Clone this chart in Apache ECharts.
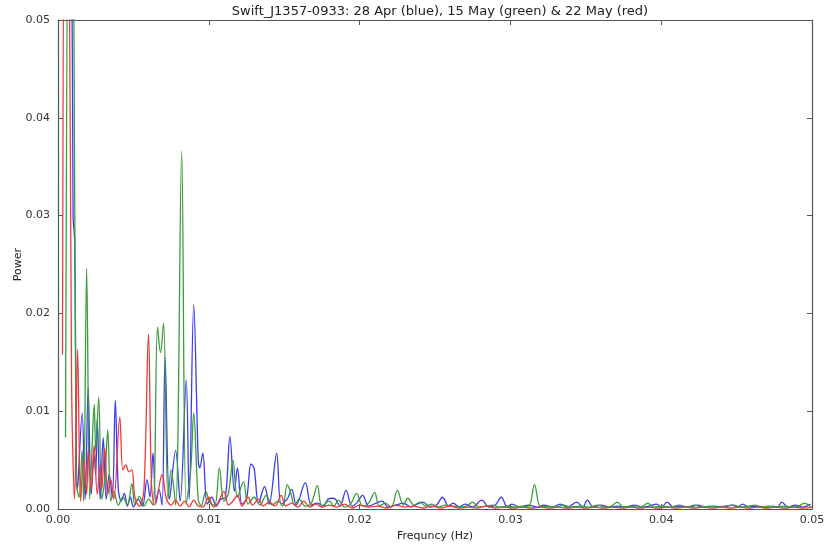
<!DOCTYPE html>
<html>
<head>
<meta charset="utf-8">
<script src="https://cdn.jsdelivr.net/npm/echarts@6/dist/echarts.min.js"></script>
<style>
    html, body { margin: 0; padding: 0; background: #fff; }
    #chart { width: 824px; height: 547px; }
</style>
</head>
<body>
<div id="chart"></div>
<script>
    // power spectra, [frequency (Hz), power]
    const blue28Apr = [
        [0.0003, 0.060], [0.0006, 0.085], [0.0009, 0.060], [0.0010, 0.030], [0.0011, 0.0275], [0.0013, 0.0020],
        [0.0016, 0.0098], [0.0018, 0.0010], [0.0020, 0.0124], [0.0022, 0.0015], [0.0024, 0.0055],
        [0.0025, 0.0035], [0.0026, 0.0092], [0.0028, 0.0010], [0.0030, 0.0073], [0.0032, 0.0010],
        [0.0034, 0.0035], [0.0036, 0.0012], [0.0038, 0.0111], [0.0040, 0.0020], [0.0042, 0.0008],
        [0.0044, 0.0016], [0.0046, 0.0003], [0.0048, 0.0012], [0.0050, 0.0002], [0.0053, 0.0010],
        [0.0056, 0.0003], [0.0059, 0.0030], [0.0061, 0.0012], [0.0063, 0.0057], [0.0065, 0.0006],
        [0.0067, 0.0020], [0.0069, 0.0004], [0.0071, 0.0155], [0.0074, 0.0010], [0.0078, 0.0060],
        [0.0081, 0.0008], [0.0085, 0.0132], [0.0087, 0.0010], [0.0090, 0.0209], [0.0093, 0.0050],
        [0.0094, 0.0042], [0.0096, 0.0057], [0.0099, 0.0005], [0.0102, 0.0012], [0.0105, 0.0003],
        [0.0108, 0.0010], [0.0111, 0.0012], [0.0114, 0.0074], [0.0117, 0.0018], [0.0119, 0.0042],
        [0.0122, 0.0005], [0.0125, 0.0010], [0.0128, 0.0046], [0.0130, 0.0042], [0.0133, 0.0006],
        [0.0137, 0.0023], [0.0140, 0.0005], [0.0145, 0.0057], [0.0148, 0.0005], [0.0152, 0.0010],
        [0.0155, 0.0020], [0.0158, 0.0004], [0.0164, 0.0027], [0.0168, 0.0004], [0.0172, 0.0006],
        [0.0176, 0.0003], [0.0179, 0.0010], [0.0182, 0.0011], [0.0184, 0.0010], [0.0187, 0.0003],
        [0.0191, 0.0019], [0.0195, 0.0003], [0.0198, 0.0006], [0.0202, 0.0014], [0.0206, 0.0003],
        [0.0211, 0.0006], [0.0215, 0.0008], [0.0219, 0.0002], [0.0224, 0.0004], [0.0229, 0.0006],
        [0.0234, 0.0002], [0.0238, 0.0005], [0.0242, 0.0007], [0.0247, 0.0002], [0.0251, 0.0004],
        [0.0255, 0.0012], [0.0259, 0.0003], [0.0262, 0.0006], [0.0266, 0.0002], [0.0270, 0.0005],
        [0.0275, 0.0002], [0.0281, 0.0009], [0.0286, 0.0002], [0.0290, 0.0004], [0.0294, 0.0012],
        [0.0298, 0.0002], [0.0301, 0.0005], [0.0306, 0.0002], [0.0312, 0.0004], [0.0318, 0.0002],
        [0.0322, 0.0004], [0.0328, 0.0002], [0.0333, 0.0005], [0.0338, 0.0002], [0.0344, 0.0007],
        [0.0348, 0.0002], [0.0351, 0.0009], [0.0355, 0.0002], [0.0360, 0.0004], [0.0366, 0.0002],
        [0.0371, 0.0003], [0.0377, 0.0002], [0.0382, 0.0004], [0.0388, 0.0002], [0.0392, 0.0003],
        [0.0397, 0.0005], [0.0400, 0.0002], [0.0404, 0.0007], [0.0408, 0.0002], [0.0413, 0.0003],
        [0.0419, 0.0002], [0.0424, 0.0004], [0.0430, 0.0002], [0.0435, 0.0003], [0.0441, 0.0002],
        [0.0447, 0.0004], [0.0451, 0.0002], [0.0454, 0.0005], [0.0458, 0.0002], [0.0463, 0.0003],
        [0.0469, 0.0002], [0.0474, 0.0003], [0.0477, 0.0002], [0.0480, 0.0007], [0.0484, 0.0002],
        [0.0489, 0.0004], [0.0494, 0.0002], [0.0499, 0.0005]
    ]

    const green15May = [
        [0.0005, 0.0073], [0.0008, 0.085], [0.0010, 0.070], [0.0012, 0.0030], [0.0014, 0.0012],
        [0.0016, 0.0060], [0.0017, 0.0008], [0.0019, 0.0246], [0.0021, 0.0010], [0.0022, 0.0040],
        [0.0024, 0.0107], [0.0025, 0.0060], [0.0027, 0.0114], [0.0029, 0.0010], [0.0031, 0.0030],
        [0.0033, 0.0081], [0.0035, 0.0008], [0.0037, 0.0018], [0.0040, 0.0004], [0.0043, 0.0012],
        [0.0046, 0.0004], [0.0049, 0.0026], [0.0051, 0.0004], [0.0054, 0.0013], [0.0057, 0.0003],
        [0.0060, 0.0010], [0.0063, 0.0004], [0.0066, 0.0186], [0.0068, 0.0160], [0.0070, 0.0190],
        [0.0073, 0.0010], [0.0075, 0.0040], [0.0078, 0.0004], [0.0082, 0.0366], [0.0085, 0.0005],
        [0.0088, 0.0040], [0.0090, 0.0098], [0.0093, 0.0010], [0.0095, 0.0003], [0.0098, 0.0018],
        [0.0101, 0.0006], [0.0104, 0.0004], [0.0107, 0.0042], [0.0110, 0.0008], [0.0113, 0.0016],
        [0.0116, 0.0050], [0.0119, 0.0012], [0.0123, 0.0028], [0.0126, 0.0005], [0.0130, 0.0012],
        [0.0134, 0.0004], [0.0138, 0.0014], [0.0142, 0.0004], [0.0146, 0.0008], [0.0149, 0.0003],
        [0.0152, 0.0025], [0.0154, 0.0018], [0.0157, 0.0004], [0.0160, 0.0010], [0.0164, 0.0003],
        [0.0168, 0.0006], [0.0172, 0.0024], [0.0175, 0.0003], [0.0180, 0.0008], [0.0183, 0.0003],
        [0.0186, 0.0009], [0.0190, 0.0002], [0.0194, 0.0005], [0.0198, 0.0016], [0.0202, 0.0003],
        [0.0206, 0.0006], [0.0210, 0.0017], [0.0213, 0.0003], [0.0217, 0.0006], [0.0221, 0.0002],
        [0.0225, 0.0019], [0.0229, 0.0004], [0.0232, 0.0011], [0.0236, 0.0004], [0.0240, 0.0007],
        [0.0244, 0.0003], [0.0248, 0.0005], [0.0252, 0.0002], [0.0257, 0.0004], [0.0262, 0.0003],
        [0.0267, 0.0002], [0.0271, 0.0003], [0.0275, 0.0007], [0.0279, 0.0002], [0.0284, 0.0003],
        [0.0288, 0.0004], [0.0293, 0.0002], [0.0298, 0.0003], [0.0303, 0.0002], [0.0308, 0.0003],
        [0.0312, 0.0002], [0.0316, 0.0025], [0.0320, 0.0002], [0.0325, 0.0003], [0.0330, 0.0002],
        [0.0335, 0.0004], [0.0340, 0.0002], [0.0346, 0.0003], [0.0352, 0.0002], [0.0358, 0.0004],
        [0.0363, 0.0002], [0.0367, 0.0003], [0.0371, 0.0007], [0.0375, 0.0002], [0.0379, 0.0003],
        [0.0384, 0.0002], [0.0388, 0.0003], [0.0391, 0.0006], [0.0395, 0.0002], [0.0401, 0.0003],
        [0.0406, 0.0002], [0.0412, 0.0004], [0.0417, 0.0002], [0.0422, 0.0004], [0.0427, 0.0002],
        [0.0432, 0.0003], [0.0437, 0.0002], [0.0442, 0.0003], [0.0448, 0.0004], [0.0453, 0.0002],
        [0.0458, 0.0003], [0.0462, 0.0004], [0.0467, 0.0002], [0.0471, 0.0003], [0.0476, 0.0002],
        [0.0481, 0.0003], [0.0486, 0.0002], [0.0491, 0.0003], [0.0495, 0.0006], [0.0499, 0.0002]
    ]

    const red22May = [
        [0.0003, 0.0158], [0.0005, 0.080], [0.0007, 0.070], [0.0009, 0.0130], [0.0011, 0.0010],
        [0.0013, 0.0163], [0.0015, 0.0008], [0.0017, 0.0050], [0.0019, 0.0015], [0.0020, 0.0060],
        [0.0022, 0.0020], [0.0024, 0.0065], [0.0026, 0.0015], [0.0028, 0.0045], [0.0029, 0.0020],
        [0.0031, 0.0062], [0.0033, 0.0015], [0.0035, 0.0030], [0.0037, 0.0010], [0.0041, 0.0094],
        [0.0043, 0.0040], [0.0045, 0.0045], [0.0047, 0.0038], [0.0049, 0.0040], [0.0051, 0.0012],
        [0.0054, 0.0003], [0.0057, 0.0020], [0.0060, 0.0179], [0.0062, 0.0025], [0.0064, 0.0004],
        [0.0066, 0.0015], [0.0069, 0.0035], [0.0072, 0.0010], [0.0075, 0.0004], [0.0078, 0.0009],
        [0.0081, 0.0003], [0.0084, 0.0008], [0.0087, 0.0002], [0.0090, 0.0009], [0.0093, 0.0003],
        [0.0096, 0.0002], [0.0100, 0.0012], [0.0103, 0.0002], [0.0106, 0.0006], [0.0110, 0.0018],
        [0.0113, 0.0004], [0.0116, 0.0008], [0.0119, 0.0014], [0.0122, 0.0003], [0.0126, 0.0012],
        [0.0129, 0.0004], [0.0133, 0.0010], [0.0136, 0.0003], [0.0140, 0.0007], [0.0144, 0.0003],
        [0.0148, 0.0014], [0.0151, 0.0003], [0.0155, 0.0006], [0.0159, 0.0002], [0.0163, 0.0008],
        [0.0167, 0.0002], [0.0171, 0.0005], [0.0175, 0.0002], [0.0180, 0.0004], [0.0185, 0.0002],
        [0.0190, 0.0005], [0.0195, 0.0001], [0.0200, 0.0004], [0.0206, 0.0002], [0.0212, 0.0003],
        [0.0218, 0.0001], [0.0224, 0.0004], [0.0230, 0.0002], [0.0236, 0.0003], [0.0242, 0.0001],
        [0.0248, 0.0003], [0.0254, 0.0001], [0.0260, 0.0003], [0.0266, 0.0001], [0.0272, 0.0002],
        [0.0278, 0.0001], [0.0284, 0.0003], [0.0290, 0.0001], [0.0296, 0.0002], [0.0302, 0.0001],
        [0.0308, 0.0002], [0.0314, 0.0001], [0.0320, 0.0002], [0.0326, 0.0001], [0.0332, 0.0002],
        [0.0338, 0.0001], [0.0344, 0.0002], [0.0350, 0.0001], [0.0356, 0.0002], [0.0362, 0.0001],
        [0.0368, 0.0002], [0.0374, 0.0001], [0.0380, 0.0002], [0.0386, 0.0001], [0.0392, 0.0002],
        [0.0398, 0.0001], [0.0404, 0.0002], [0.0410, 0.0001], [0.0416, 0.0002], [0.0422, 0.0001],
        [0.0428, 0.0002], [0.0434, 0.0001], [0.0440, 0.0002], [0.0446, 0.0001], [0.0452, 0.0002],
        [0.0458, 0.0001], [0.0464, 0.0002], [0.0470, 0.0001], [0.0476, 0.0002], [0.0482, 0.0001],
        [0.0488, 0.0002], [0.0494, 0.0001], [0.0500, 0.0002]
    ]

    const tickValues = [0, 0.01, 0.02, 0.03, 0.04, 0.05]

    const font = 'DejaVu Sans'
    const frameColor = '#555'

    function lineSeries(name, data, color) {
        return {
            name: name,
            type: 'line',
            data: data,
            smooth: 0.35,
            symbol: 'none',
            clip: true,
            lineStyle: { color: color, width: 1.3 },
            itemStyle: { color: color }
        }
    }

    function axisBase(show) {
        return {
            type: 'value',
            min: tickValues[0],
            max: tickValues[tickValues.length - 1],
            interval: 0.01,
            splitLine: { show: false },
            axisLine: { show: true, onZero: false, lineStyle: { color: frameColor, width: 1.2 } },
            axisTick: { show: true, inside: true, length: 5, lineStyle: { color: frameColor } },
            axisLabel: {
                show: show,
                color: '#333',
                fontFamily: font,
                fontSize: 11,
                formatter: v => v.toFixed(2)
            }
        }
    }

    const chart = echarts.init(document.getElementById('chart'))
    chart.setOption({
        animation: false,
        backgroundColor: '#fff',
        title: {
            text: 'Swift_J1357-0933: 28 Apr (blue), 15 May (green) & 22 May (red)',
            left: 435,
            top: 0,
            textAlign: 'center',
            textStyle: { fontFamily: font, fontSize: 13, fontWeight: 'normal', color: '#222' }
        },
        grid: { left: 58, right: 12, top: 20, bottom: 38, outerBoundsMode: 'none' },
        xAxis: [
            Object.assign(axisBase(true), {
                position: 'bottom',
                name: 'Frequncy (Hz)',
                nameLocation: 'middle',
                nameGap: 22,
                nameTextStyle: { fontFamily: font, fontSize: 11, color: '#222' },
                axisLabel: Object.assign(axisBase(true).axisLabel, { margin: 6 })
            }),
            Object.assign(axisBase(false), { position: 'top' })
        ],
        yAxis: [
            Object.assign(axisBase(true), {
                position: 'left',
                name: 'Power',
                nameLocation: 'middle',
                nameGap: 34,
                nameMoveOverlap: false,
                nameTextStyle: { fontFamily: font, fontSize: 11, color: '#222' }
            }),
            Object.assign(axisBase(false), { position: 'right' })
        ],
        series: [
            lineSeries('28 Apr', blue28Apr, '#3b3bf2'),
            lineSeries('15 May', green15May, '#3a9c3a'),
            lineSeries('22 May', red22May, '#ee3a3a')
        ]
    })
</script>
</body>
</html>
